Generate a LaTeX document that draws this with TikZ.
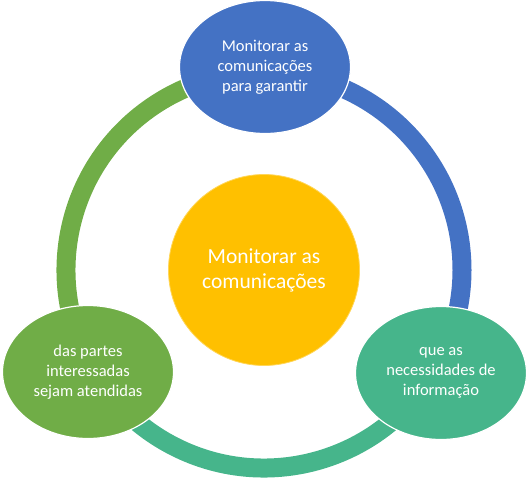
\documentclass[tikz,border=0pt]{standalone}
\usepackage{fontspec}
\setmainfont{Carlito}
\usetikzlibrary{shapes.geometric}
\definecolor{cblue}{HTML}{4472C4}
\definecolor{cgreen}{HTML}{70AD47}
\definecolor{cteal}{HTML}{46B58B}
\definecolor{cyellow}{HTML}{FFC000}
\tikzset{
  ringarc/.style={line width=19pt},
  satellite/.style={ellipse, minimum width=171pt, minimum height=133pt, inner sep=0pt,
    draw=white, line width=1.2pt, text=white, align=center,
    font=\fontsize{16.5}{20}\selectfont},
  hub/.style={circle, minimum size=191pt, inner sep=0pt, fill=cyellow,
    draw=white!35!cyellow, line width=0.8pt, text=white, align=center,
    font=\fontsize{21.5}{25}\selectfont}
}
\begin{document}
\begin{tikzpicture}[x=1pt,y=1pt]
\useasboundingbox (0,0) rectangle (530,-490);
\coordinate (c) at (264,-270);
\draw[ringarc, cblue]  ([shift={(90:198)}]c) arc[start angle=90, end angle=-30, radius=198];
\draw[ringarc, cteal]  ([shift={(-30:198)}]c) arc[start angle=-30, end angle=-150, radius=198];
\draw[ringarc, cgreen] ([shift={(210:198)}]c) arc[start angle=210, end angle=90, radius=198];
\node[hub] (hub) at (c) {Monitorar as\\comunicações};
\node[satellite, fill=cblue] (top) at (265,-67) {Monitorar as\\comunicações\\para garantir};
\node[satellite, fill=cteal] (right) at (441,-373) {que as\\necessidades de\\informação};
\node[satellite, fill=cgreen] (left) at (88,-372) {das partes\\interessadas\\sejam atendidas};
\end{tikzpicture}
\end{document}
